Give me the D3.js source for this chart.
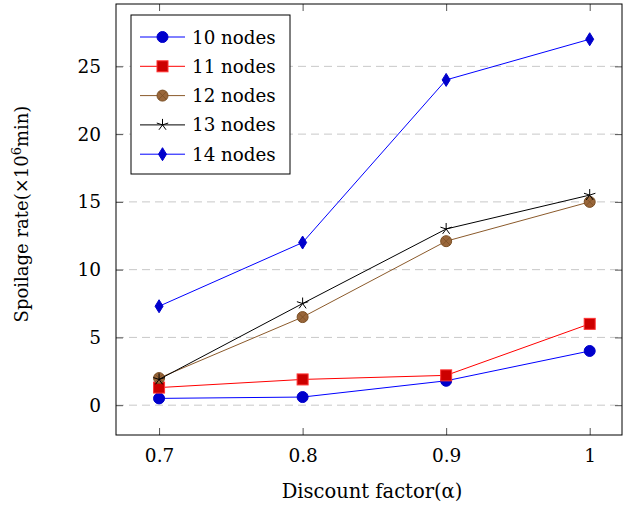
<!DOCTYPE html>
<html>
<head>
<meta charset="utf-8">
<script src="https://cdn.jsdelivr.net/npm/d3@7"></script>
<style>
  body { margin: 0; background: #fff; }
  svg text { font-family: "DejaVu Serif", "Liberation Serif", serif; fill: #000; }
</style>
</head>
<body>
<div class="graph-container"></div>
<script>
// x values - discount factor
var alphas = [0.7, 0.8, 0.9, 1];
// spoilage rate series, one per node count
var nodes10 = [0.5, 0.6, 1.8, 4.0];
var nodes11 = [1.3, 1.9, 2.2, 6.0];
var nodes12 = [2.0, 6.5, 12.1, 15.0];
var nodes13 = [1.9, 7.5, 13.0, 15.5];
var nodes14 = [7.3, 12.0, 24.0, 27.0];
var seriesNames = ['10 nodes', '11 nodes', '12 nodes', '13 nodes', '14 nodes'];
var xTicks = [0.7, 0.8, 0.9, 1];
var yTicks = [0, 5, 10, 15, 20, 25];

var svgWidth = 623;
var svgHeight = 506;
var plotLeft = 116, plotRight = 622, plotTop = 4, plotBottom = 435;
var FONT = '"DejaVu Serif", serif';

var series = [
    { name: seriesNames[0], values: nodes10, line: '#0000ff', fill: '#0000cc', stroke: '#0000cc', marker: 'circle' },
    { name: seriesNames[1], values: nodes11, line: '#ff0000', fill: '#cc0000', stroke: '#ff3333', marker: 'square' },
    { name: seriesNames[2], values: nodes12, line: '#8b5a2b', fill: '#99663a', stroke: '#7a4f24', marker: 'otimes' },
    { name: seriesNames[3], values: nodes13, line: '#000000', fill: 'none', stroke: '#000000', marker: 'star' },
    { name: seriesNames[4], values: nodes14, line: '#0000ff', fill: '#0000cc', stroke: '#0000cc', marker: 'diamond' }
];

var xScale = d3.scaleLinear().domain([0.67, 1.0225]).range([plotLeft, plotRight]);
var yScale = d3.scaleLinear().domain([-2.2, 29.6]).range([plotBottom, plotTop]);

var svg = d3.select('.graph-container').append('svg')
    .attr('width', svgWidth)
    .attr('height', svgHeight);

// dashed grid lines
svg.append('g').selectAll('line')
    .data(yTicks)
    .enter()
    .append('line')
    .attr('x1', plotLeft)
    .attr('x2', plotRight)
    .attr('y1', function(d) { return yScale(d); })
    .attr('y2', function(d) { return yScale(d); })
    .attr('stroke', '#c8c8c8')
    .attr('stroke-width', 1)
    .attr('stroke-dasharray', '8,5');

// axes, ticks pointing inward
var xAxis = d3.axisBottom(xScale).tickValues(xTicks).tickSize(-7).tickSizeOuter(0)
    .tickPadding(14).tickFormat(function(d) { return d === 1 ? '1' : d3.format('.1f')(d); });
var xg = svg.append('g')
    .attr('transform', 'translate(0,' + plotBottom + ')')
    .call(xAxis);
xg.select('.domain').remove();

var xTop = d3.axisTop(xScale).tickValues(xTicks).tickSize(-7).tickSizeOuter(0).tickFormat('');
var xtg = svg.append('g')
    .attr('transform', 'translate(0,' + plotTop + ')')
    .call(xTop);
xtg.select('.domain').remove();

var yAxis = d3.axisLeft(yScale).tickValues(yTicks).tickSize(-7).tickSizeOuter(0).tickPadding(15);
var yg = svg.append('g')
    .attr('transform', 'translate(' + plotLeft + ',0)')
    .call(yAxis);
yg.select('.domain').remove();

var yRight = d3.axisRight(yScale).tickValues(yTicks).tickSize(-7).tickSizeOuter(0).tickFormat('');
var yrg = svg.append('g')
    .attr('transform', 'translate(' + plotRight + ',0)')
    .call(yRight);
yrg.select('.domain').remove();

svg.selectAll('.tick line').attr('stroke', '#555');
svg.selectAll('.tick text')
    .attr('font-family', FONT)
    .attr('font-size', 18.5);

// plot frame
svg.append('rect')
    .attr('x', plotLeft)
    .attr('y', plotTop)
    .attr('width', plotRight - plotLeft)
    .attr('height', plotBottom - plotTop)
    .attr('fill', 'none')
    .attr('stroke', '#000')
    .attr('stroke-width', 1);

function drawMarker(g, s, x, y) {
    if (s.marker === 'circle') {
        g.append('circle').attr('cx', x).attr('cy', y).attr('r', 5.5)
            .attr('fill', s.fill).attr('stroke', s.stroke);
    } else if (s.marker === 'square') {
        g.append('rect').attr('x', x - 5.5).attr('y', y - 5.5).attr('width', 11).attr('height', 11)
            .attr('fill', s.fill).attr('stroke', s.stroke);
    } else if (s.marker === 'otimes') {
        g.append('circle').attr('cx', x).attr('cy', y).attr('r', 5.5)
            .attr('fill', s.fill).attr('stroke', s.stroke);
        var r = 3.9;
        g.append('path')
            .attr('d', 'M' + (x - r) + ',' + (y - r) + 'L' + (x + r) + ',' + (y + r) +
                'M' + (x - r) + ',' + (y + r) + 'L' + (x + r) + ',' + (y - r))
            .attr('stroke', s.stroke).attr('stroke-width', 0.8);
    } else if (s.marker === 'star') {
        var p = '';
        for (var k = 0; k < 5; k++) {
            var a = -Math.PI / 2 + k * 2 * Math.PI / 5;
            p += 'M' + x + ',' + y + 'L' + (x + 6 * Math.cos(a)) + ',' + (y + 6 * Math.sin(a));
        }
        g.append('path').attr('d', p).attr('stroke', s.stroke).attr('stroke-width', 1);
    } else if (s.marker === 'diamond') {
        g.append('path')
            .attr('d', 'M' + x + ',' + (y - 6.5) + 'L' + (x + 4) + ',' + y + 'L' + x + ',' + (y + 6.5) +
                'L' + (x - 4) + ',' + y + 'Z')
            .attr('fill', s.fill).attr('stroke', s.stroke);
    }
}

var line = d3.line()
    .x(function(d, i) { return xScale(alphas[i]); })
    .y(function(d) { return yScale(d); });

series.forEach(function(s) {
    var g = svg.append('g');
    g.append('path')
        .datum(s.values)
        .attr('d', line)
        .attr('fill', 'none')
        .attr('stroke', s.line)
        .attr('stroke-width', 1);
    s.values.forEach(function(v, i) {
        drawMarker(g, s, xScale(alphas[i]), yScale(v));
    });
});

// legend
var legend = svg.append('g').attr('transform', 'translate(131,15)');
legend.append('rect')
    .attr('width', 159).attr('height', 159)
    .attr('fill', '#fff').attr('stroke', '#000');
series.forEach(function(s, i) {
    var ly = 22 + i * 29.3;
    legend.append('line')
        .attr('x1', 9).attr('x2', 54).attr('y1', ly).attr('y2', ly)
        .attr('stroke', s.line).attr('stroke-width', 1);
    drawMarker(legend, s, 31.5, ly);
    legend.append('text')
        .attr('x', 61).attr('y', ly + 6.5)
        .attr('font-family', FONT)
        .attr('font-size', 18.3)
        .text(s.name);
});

// axis labels
svg.append('text')
    .attr('x', 372)
    .attr('y', 498)
    .attr('font-family', FONT)
    .attr('font-size', 19.5)
    .style('text-anchor', 'middle')
    .text('Discount factor(α)');

var yl = svg.append('text')
    .attr('transform', 'translate(28,214) rotate(-90)')
    .attr('font-family', FONT)
    .attr('font-size', 18)
    .style('text-anchor', 'middle');
yl.append('tspan').text('Spoilage rate(×10');
yl.append('tspan').attr('dy', -7).attr('font-size', 13).text('6');
yl.append('tspan').attr('dy', 7).text('min)');
</script>
</body>
</html>
